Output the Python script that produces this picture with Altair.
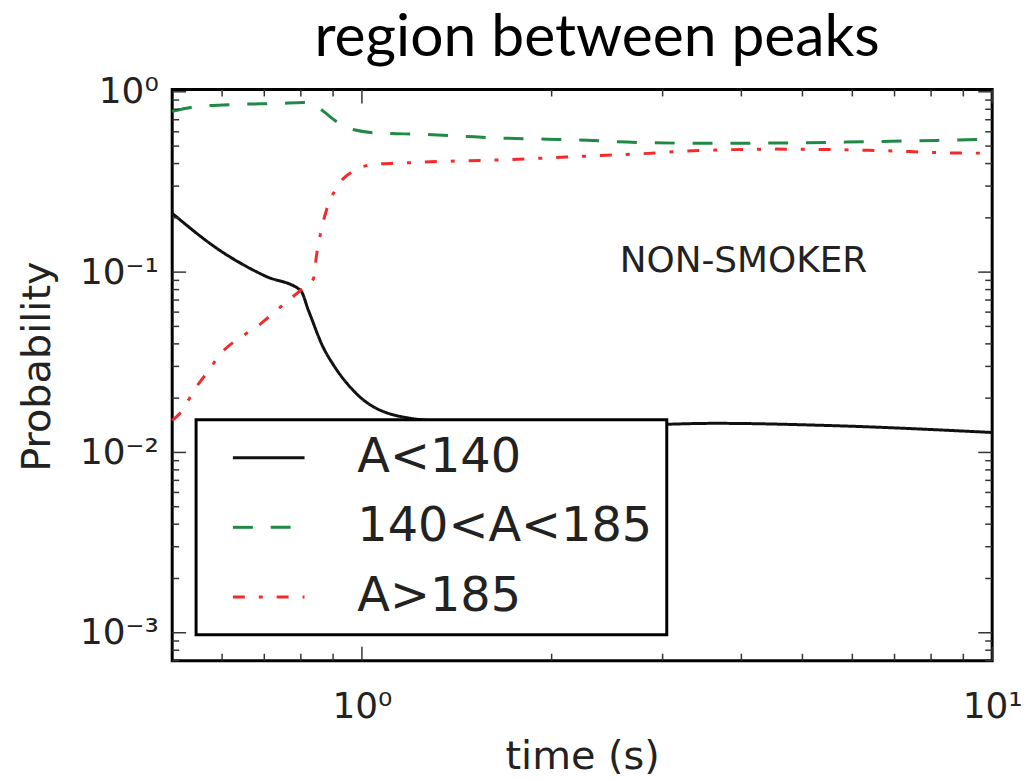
import altair as alt
import pandas as pd

# ---- data ----
names = ["A<140", "140<A<185", "A>185"]
colors = ["#111111", "#1e8a45", "#f42a2a"]
dashes = [[1, 0], [20, 18], [12, 14, 4, 14]]

black_t = [0.5, 0.597, 0.703, 0.799, 0.823, 0.869, 0.901, 0.980, 1.154, 1.478, 2.196, 3.65, 5.51, 10.0]
black_p = [0.212, 0.131, 0.095, 0.0793, 0.061, 0.038, 0.0306, 0.0212, 0.0158, 0.0145, 0.0139, 0.0145, 0.0141, 0.0129]

green_t = [0.5, 0.551, 0.638, 0.738, 0.808, 0.838, 0.869, 0.911, 0.952, 1.073, 1.259, 1.456,
           1.684, 1.969, 2.277, 2.634, 3.276, 4.075, 5.86, 8.43, 10.0]
green_p = [0.779, 0.830, 0.852, 0.862, 0.873, 0.852, 0.779, 0.684, 0.627, 0.589, 0.581, 0.566,
           0.553, 0.546, 0.539, 0.526, 0.519, 0.519, 0.526, 0.539, 0.546]

red_t = [0.5, 0.518, 0.542, 0.570, 0.600, 0.642, 0.686, 0.738, 0.799, 0.838, 0.847, 0.860, 0.878,
         0.911, 0.969, 1.050, 1.141, 1.369, 1.625, 1.919, 2.277, 2.70, 3.24, 4.54, 6.37, 9.17, 10.0]
red_p = [0.0150, 0.0170, 0.0222, 0.0282, 0.0360, 0.0435, 0.0507, 0.0630, 0.0793, 0.0921, 0.123, 0.165, 0.219,
         0.293, 0.363, 0.397, 0.402, 0.412, 0.418, 0.428, 0.440, 0.451, 0.468, 0.481, 0.474, 0.457, 0.457]

annot_t = [4.03]
annot_p = [0.1157]
annot_text = ["NON-SMOKER"]

y_major = [0.001, 0.01, 0.1, 1.0]
y_minor = [0.0007, 0.0008, 0.0009,
           0.002, 0.003, 0.004, 0.005, 0.006, 0.007, 0.008, 0.009,
           0.02, 0.03, 0.04, 0.05, 0.06, 0.07, 0.08, 0.09,
           0.2, 0.3, 0.4, 0.5, 0.6, 0.7, 0.8, 0.9]
x_major = [1.0, 10.0]
x_minor = [0.6, 0.7, 0.8, 0.9, 2, 3, 4, 5, 6, 7, 8, 9]

W, H = 824, 574
FONT = "DejaVu Sans"
TXT = "#222222"

rows = []
for name, ts, ps in [(names[0], black_t, black_p), (names[1], green_t, green_p), (names[2], red_t, red_p)]:
    for t, p in zip(ts, ps):
        rows.append({"series": name, "t": t, "p": p})
df = pd.DataFrame(rows)

xscale = alt.Scale(type="log", domain=[0.5, 10], nice=False)
yscale = alt.Scale(type="log", domain=[0.0007, 1.03], nice=False)

xaxis = alt.Axis(values=x_major, title="time (s)",
                 labelExpr="datum.value > 5 ? '10¹' : '10⁰'",
                 labelPadding=29, labelFlush=False, labelOverlap=False,
                 titleY=108, titleBaseline="alphabetic")
yaxis = alt.Axis(values=y_major, title="Probability",
                 labelExpr="datum.value > 0.5 ? '10⁰' : datum.value > 0.05 ? '10⁻¹' : datum.value > 0.005 ? '10⁻²' : '10⁻³'",
                 labelPadding=14, labelOverlap=False,
                 titleX=-123, titleY=278, titleBaseline="alphabetic")


def X(field):
    return alt.X(f"{field}:Q", scale=xscale, axis=xaxis)


def Y(field):
    return alt.Y(f"{field}:Q", scale=yscale, axis=yaxis)


legend = alt.Legend(
    title=None, orient="none", legendX=24, legendY=332,
    padding=14, rowPadding=22,
    symbolType="M-2,0H2", symbolSize=1296, symbolStrokeWidth=3,
    symbolOffset=35, labelOffset=65, labelLimit=500,
    labelFont=FONT, labelFontSize=48, labelColor=TXT,
    strokeColor="black", fillColor="white",
)

lines = alt.Chart(df).mark_line(strokeWidth=3, interpolate="monotone").encode(
    x=X("t"),
    y=Y("p"),
    color=alt.Color("series:N", scale=alt.Scale(domain=names, range=colors), legend=legend),
    strokeDash=alt.StrokeDash("series:N", scale=alt.Scale(domain=names, range=dashes), legend=legend),
)

annot = alt.Chart(pd.DataFrame({"t": annot_t, "p": annot_p, "s": annot_text})).mark_text(
    font=FONT, fontSize=36, color=TXT, align="center", baseline="middle"
).encode(
    x=X("t"),
    y=Y("p"),
    text="s:N",
)


def yticks(vals, length):
    d = pd.DataFrame({"p": vals})
    base = alt.Chart(d).mark_rule(color="#333333", strokeWidth=1.5)
    left = base.encode(y=Y("p"), x=alt.value(0), x2=alt.value(length))
    right = base.encode(y=Y("p"), x=alt.value(W - length), x2=alt.value(W))
    return [left, right]


def xticks(vals, length):
    d = pd.DataFrame({"t": vals})
    base = alt.Chart(d).mark_rule(color="#333333", strokeWidth=1.5)
    top = base.encode(x=X("t"), y=alt.value(0), y2=alt.value(length))
    bottom = base.encode(x=X("t"), y=alt.value(H - length), y2=alt.value(H))
    return [top, bottom]


tick_layers = yticks(y_major, 14) + yticks(y_minor, 7) + xticks(x_major, 14) + xticks(x_minor, 7)

chart = alt.layer(lines, annot, *tick_layers).properties(
    width=W, height=H,
    title=alt.TitleParams("region between peaks", font="Lato", fontSize=59, fontWeight="normal",
                          color="black", anchor="middle", frame="group", dx=15, dy=72,
                          baseline="alphabetic", offset=31),
    autosize=alt.AutoSizeParams(type="none"),
    padding={"left": 165, "top": 80, "right": 34, "bottom": 115},
).configure_view(
    stroke="black", strokeWidth=3
).configure_axis(
    domain=False, ticks=False, grid=False,
    labelFont=FONT, labelFontSize=36, labelColor=TXT,
    titleFont=FONT, titleFontSize=40, titleFontWeight="normal", titleColor=TXT,
).configure_legend(
    strokeWidth=3
)

chart.save("out.html", embed_options={"renderer": "svg", "actions": False})
